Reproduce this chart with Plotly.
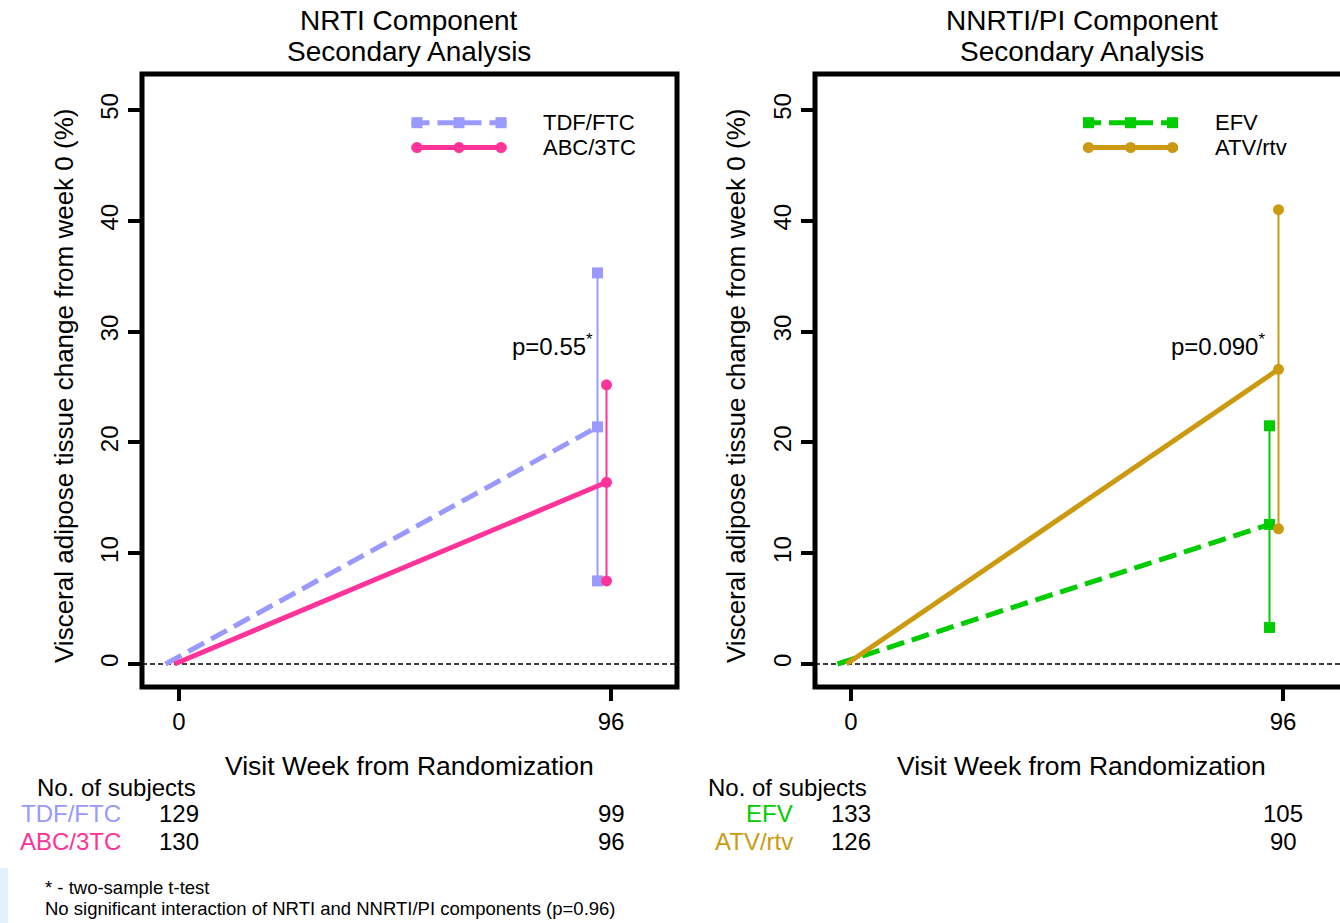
import plotly.graph_objects as go

# ---------------- data ----------------
weeks = [0, 96]
tdf_mean = [0, 21.4]
tdf_ci96 = [7.5, 35.3]
abc_mean = [0, 16.4]
abc_ci96 = [7.5, 25.2]
efv_mean = [0, 12.6]
efv_ci96 = [3.3, 21.5]
atv_mean = [0, 26.6]
atv_ci96 = [12.2, 41.0]
tdf_n = [129, 99]
abc_n = [130, 96]
efv_n = [133, 105]
atv_n = [126, 90]
y_ticks = [0, 10, 20, 30, 40, 50]
p_left = "p=0.55"
p_right = "p=0.090"

# ---------------- style ----------------
W, H = 1340, 923
FONT = "Liberation Sans, Arial, sans-serif"
C_TDF = "#9999FF"
C_ABC = "#FF3399"
C_EFV = "#00CC00"
C_ATV = "#CC9A10"
DASH = "18px,8px"
OFF1, OFF2 = -3, -1


def px(x):
    return x / W


def py(y):
    return 1 - y / H


# panel pixel boxes
L_X0, L_X1 = 142, 677
R_X0, R_X1 = 815, 1349
Y_TOP, Y_BOT = 74, 687
X0_PIX_L, X0_PIX_R = 179, 851
PX_PER_WEEK = 4.5
Y0_PIX = 664
PX_PER_UNIT = 11.08

xr_l = [(L_X0 - X0_PIX_L) / PX_PER_WEEK, (L_X1 - X0_PIX_L) / PX_PER_WEEK]
xr_r = [(R_X0 - X0_PIX_R) / PX_PER_WEEK, (W - X0_PIX_R) / PX_PER_WEEK]
yr = [(Y0_PIX - Y_BOT) / PX_PER_UNIT, (Y0_PIX - Y_TOP) / PX_PER_UNIT]

fig = go.Figure()


def add_series(mean, ci, off, color, dash, symbol, xa, ya):
    fig.add_trace(go.Scatter(
        x=[w + off for w in weeks], y=mean, mode="lines",
        line=dict(color=color, width=5, dash=dash),
        xaxis=xa, yaxis=ya, showlegend=False, hoverinfo="skip"))
    fig.add_trace(go.Scatter(
        x=[weeks[1] + off] * 3, y=[ci[0], mean[1], ci[1]], mode="lines+markers",
        line=dict(color=color, width=2),
        marker=dict(symbol=symbol, size=11, color=color),
        xaxis=xa, yaxis=ya, showlegend=False, hoverinfo="skip"))


add_series(tdf_mean, tdf_ci96, OFF1, C_TDF, DASH, "square", "x", "y")
add_series(abc_mean, abc_ci96, OFF2, C_ABC, "solid", "circle", "x", "y")
add_series(efv_mean, efv_ci96, OFF1, C_EFV, DASH, "square", "x2", "y2")
add_series(atv_mean, atv_ci96, OFF2, C_ATV, "solid", "circle", "x2", "y2")

axis_common = dict(showgrid=False, zeroline=False, showline=False,
                   ticks="outside", ticklen=13, tickwidth=4, tickcolor="black",
                   tickfont=dict(family=FONT, size=24, color="black"))

fig.update_layout(
    width=W, height=H,
    margin=dict(l=0, r=0, t=0, b=0),
    paper_bgcolor="white", plot_bgcolor="white",
    showlegend=False,
    xaxis=dict(domain=[px(L_X0), px(L_X1)], range=xr_l, tickvals=weeks,
               anchor="y", **axis_common),
    yaxis=dict(domain=[py(Y_BOT), py(Y_TOP)], range=yr, tickvals=y_ticks,
               tickangle=-90, anchor="x", **axis_common),
    xaxis2=dict(domain=[px(R_X0), 1.0], range=xr_r, tickvals=weeks,
                anchor="y2", **axis_common),
    yaxis2=dict(domain=[py(Y_BOT), py(Y_TOP)], range=yr, tickvals=y_ticks,
                tickangle=-90, anchor="x2", **axis_common),
)

shapes = []
# boxes
for x0, x1 in [(L_X0, L_X1), (R_X0, R_X1)]:
    shapes.append(dict(type="rect", xref="paper", yref="paper",
                       x0=px(x0), x1=px(x1), y0=py(Y_BOT), y1=py(Y_TOP),
                       line=dict(color="black", width=5), layer="above"))
# zero reference lines
for x0, x1, yref in [(L_X0, L_X1, "y"), (R_X0, W, "y2")]:
    shapes.append(dict(type="line", xref="paper", yref=yref,
                       x0=px(x0), x1=px(x1), y0=0, y1=0,
                       line=dict(color="black", width=1.5, dash="5px,3px"),
                       layer="below"))


# legend keys
def legend_key(xs, xe, yc, color, dash, kind):
    shapes.append(dict(type="line", xref="paper", yref="paper",
                       x0=px(xs), x1=px(xe), y0=py(yc), y1=py(yc),
                       line=dict(color=color, width=5, dash=dash)))
    for cx in [xs + 5.5, (xs + xe) / 2, xe - 5.5]:
        shapes.append(dict(type=kind, xref="paper", yref="paper",
                           xsizemode="pixel", ysizemode="pixel",
                           xanchor=px(cx), yanchor=py(yc),
                           x0=-5.5, x1=5.5, y0=-5.5, y1=5.5,
                           fillcolor=color, line=dict(width=0)))


legend_key(411.5, 506.5, 122.7, C_TDF, DASH, "rect")
legend_key(411.5, 506.5, 147.5, C_ABC, "solid", "circle")
legend_key(1083, 1178, 122.7, C_EFV, DASH, "rect")
legend_key(1083, 1178, 147.5, C_ATV, "solid", "circle")

# faint slide artefact at bottom-left edge
shapes.append(dict(type="rect", xref="paper", yref="paper", layer="below",
                   x0=0, x1=px(8), y0=0, y1=py(868),
                   fillcolor="#E3F2FA", line=dict(width=0)))

fig.update_layout(shapes=shapes)

ann = []


def txt(x, y, s, size, color="black", xanchor="center", xref="paper", yref="paper", **kw):
    ann.append(dict(x=x, y=y, xref=xref, yref=yref, text=s, showarrow=False,
                    xanchor=xanchor, yanchor="middle", borderpad=0, borderwidth=0,
                    font=dict(family=FONT, size=size, color=color), **kw))


# titles
txt(px(409.5), py(20), "NRTI Component", 28)
txt(px(409.5), py(51), "Secondary Analysis", 28)
txt(px(1081.5), py(20), "NNRTI/PI Component", 28)
txt(px(1081.5), py(51), "Secondary Analysis", 28)
# axis titles
txt(px(409.5), py(766), "Visit Week from Randomization", 26.5)
txt(px(1081), py(766), "Visit Week from Randomization", 26.5)
ytitle = "Visceral adipose tissue change from week 0 (%)"
txt(px(64), py(386), ytitle, 26, textangle=-90)
txt(px(736), py(386), ytitle, 26, textangle=-90)
# legend text
txt(px(543), py(123), "TDF/FTC", 22, xanchor="left")
txt(px(543), py(148), "ABC/3TC", 22, xanchor="left")
txt(px(1215), py(123), "EFV", 22, xanchor="left")
txt(px(1215), py(148), "ATV/rtv", 22, xanchor="left")
# p-values
txt(90, 28.8, p_left + "<sup>*</sup>", 24, xanchor="right", xref="x", yref="y", xshift=9)
txt(90, 28.8, p_right + "<sup>*</sup>", 24, xanchor="right", xref="x2", yref="y2", xshift=9)

# subject table
txt(px(37), py(787), "No. of subjects", 24, xanchor="left")
txt(px(708), py(787), "No. of subjects", 24, xanchor="left")
txt(px(121), py(813), "TDF/FTC", 24, color=C_TDF, xanchor="right")
txt(px(121), py(841), "ABC/3TC", 24, color=C_ABC, xanchor="right")
txt(px(793), py(813), "EFV", 24, color=C_EFV, xanchor="right")
txt(px(793), py(841), "ATV/rtv", 24, color=C_ATV, xanchor="right")
for i, w in enumerate(weeks):
    txt(w, py(813), str(tdf_n[i]), 24, xref="x")
    txt(w, py(841), str(abc_n[i]), 24, xref="x")
    txt(w, py(813), str(efv_n[i]), 24, xref="x2")
    txt(w, py(841), str(atv_n[i]), 24, xref="x2")

# footnotes
txt(px(45), py(887), "* - two-sample t-test", 18.5, xanchor="left")
txt(px(45), py(908), "No significant interaction of NRTI and NNRTI/PI components (p=0.96)", 18.5, xanchor="left")

fig.update_layout(annotations=ann)
fig.write_html("out.html")
